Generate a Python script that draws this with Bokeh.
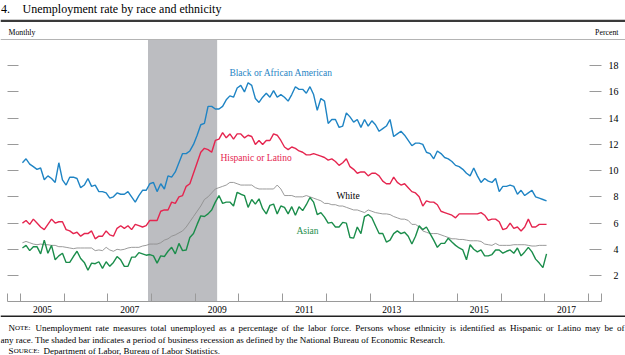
import numpy as np
from bokeh.plotting import figure
from bokeh.models import (FixedTicker, LinearAxis, BoxAnnotation, Label,
                          ColumnDataSource, Range1d)
from bokeh.embed import file_html
from bokeh.resources import INLINE
from bokeh.core.properties import value

# ---------------- data (monthly, Jan 2005 - Jan 2017, percent) ----------------
first_year = 2005
n_months = 145
dates = first_year + (np.arange(n_months) + 0.5) / 12.0

black = [10.6, 10.9, 10.5, 10.3, 10.1, 10.2, 9.3, 9.6, 9.4, 9.1, 10.6, 9.3,
         8.9, 9.5, 9.5, 9.4, 8.7, 8.9, 9.4, 8.8, 8.9, 8.4, 8.4, 8.3,
         7.9, 8.0, 8.3, 8.2, 8.2, 8.4, 8.0, 7.6, 8.1, 8.5, 8.5, 9.0,
         9.1, 8.4, 9.0, 8.6, 9.6, 9.5, 9.9, 10.6, 11.3, 11.3, 11.5, 12.0,
         12.7, 13.5, 13.6, 14.9, 14.9, 14.7, 14.7, 14.9, 15.4, 15.7, 15.6, 16.3,
         16.5, 16.0, 16.7, 16.5, 15.5, 15.2, 15.6, 15.9, 15.6, 16.1, 15.6, 15.8,
         15.6, 15.3, 15.8, 16.4, 16.2, 16.2, 15.9, 16.4, 15.8, 14.6, 15.5, 15.3,
         13.6, 13.9, 13.9, 13.3, 13.4, 14.4, 14.1, 13.7, 13.9, 13.3, 13.9, 13.4,
         13.8, 13.5, 13.0, 13.2, 13.4, 13.9, 12.6, 12.8, 13.0, 12.7, 12.3, 11.9,
         12.1, 12.1, 12.0, 11.4, 11.3, 10.9, 11.5, 11.3, 11.0, 10.9, 10.7, 10.4,
         10.3, 10.1, 9.8, 9.6, 10.2, 9.6, 9.1, 9.4, 9.2, 9.1, 9.4, 8.4,
         8.8, 8.8, 8.9, 8.8, 8.2, 8.5, 8.1, 8.3, 8.5, 8.0, 7.9, 7.8, 7.7]

hispanic = [6.0, 6.2, 5.9, 6.3, 6.0, 5.7, 5.5, 5.9, 6.3, 6.0, 6.1, 6.1,
            5.5, 5.4, 5.2, 5.3, 5.0, 5.2, 5.2, 5.4, 4.8, 5.0, 5.0, 5.4,
            5.1, 5.0, 5.6, 5.8, 5.6, 5.8, 5.5, 5.9, 5.8, 5.7, 5.8, 6.2,
            6.2, 6.2, 6.9, 7.0, 7.0, 7.6, 7.5, 8.0, 8.1, 8.8, 9.0, 9.8,
            10.6, 11.4, 11.7, 11.6, 11.4, 12.3, 12.4, 12.9, 12.5, 12.8, 12.4, 12.8,
            12.8, 12.5, 12.7, 12.6, 12.0, 12.3, 12.0, 12.3, 12.3, 12.8, 12.7, 12.3,
            11.8, 11.6, 11.8, 11.7, 11.5, 11.4, 11.2, 11.2, 11.3, 11.2, 11.1, 11.0,
            10.8, 10.9, 10.7, 10.4, 10.6, 10.9, 10.3, 10.1, 9.8, 9.9, 9.9, 9.6,
            9.8, 9.8, 9.6, 9.2, 9.0, 9.0, 9.5, 9.1, 8.9, 9.0, 8.7, 8.4,
            8.3, 8.0, 7.3, 7.7, 7.6, 7.6, 7.4, 6.9, 6.8, 6.7, 6.6, 6.4,
            6.7, 6.7, 6.7, 6.7, 6.7, 6.7, 6.8, 6.6, 6.2, 6.3, 6.3, 6.1,
            5.5, 5.6, 6.0, 5.6, 5.7, 5.4, 5.7, 6.3, 5.7, 5.7, 5.9, 5.9, 5.9]

white = [4.5, 4.6, 4.5, 4.4, 4.35, 4.4, 4.35, 4.35, 4.3, 4.3, 4.2, 4.2,
         4.15, 4.1, 4.05, 4.1, 4.1, 4.1, 4.1, 4.1, 3.9, 3.95, 3.9, 4.15,
         3.95, 3.85, 4.0, 3.95, 4.0, 4.1, 4.15, 4.15, 4.15, 4.25, 4.3, 4.4,
         4.4, 4.4, 4.5, 4.7, 4.8, 5.0, 5.1, 5.25, 5.4, 5.7, 6.1, 6.5,
         6.9, 7.3, 7.8, 8.0, 8.3, 8.6, 8.7, 8.8, 8.9, 9.1, 9.1, 9.0,
         8.9, 8.9, 8.9, 8.9, 8.7, 8.6, 8.6, 8.6, 8.6, 8.6, 8.9, 8.6,
         8.1, 8.1, 8.1, 8.0, 8.0, 8.0, 8.1, 8.0, 7.9, 7.8, 7.7, 7.5,
         7.5, 7.4, 7.4, 7.3, 7.3, 7.2, 7.1, 7.0, 7.0, 6.9, 6.8, 7.0,
         6.9, 6.8, 6.75, 6.7, 6.7, 6.65, 6.5, 6.4, 6.3, 6.3, 6.2, 5.9,
         5.9, 5.7, 5.4, 5.3, 5.2, 5.2, 5.2, 5.1, 5.0, 4.9, 4.8, 4.8,
         4.75, 4.75, 4.7, 4.65, 4.65, 4.65, 4.6, 4.4, 4.35, 4.3, 4.45, 4.3,
         4.3, 4.3, 4.3, 4.35, 4.35, 4.35, 4.35, 4.3, 4.25, 4.25, 4.3, 4.3, 4.3]

asian = [4.1, 4.3, 3.9, 4.2, 4.2, 3.65, 4.7, 3.7, 4.3, 3.2, 3.5, 3.7,
         3.0, 3.0, 3.45, 3.85, 3.3, 3.0, 2.4, 2.95, 2.9, 3.05, 2.55, 3.05,
         2.7, 3.0, 3.45, 3.2, 2.7, 2.7, 3.4, 3.4, 3.75, 3.65, 3.55, 3.6,
         3.5, 2.95, 3.5, 3.45, 3.85, 4.15, 3.65, 4.45, 3.9, 3.95, 4.9, 5.2,
         5.9, 6.55, 6.5, 6.7, 7.0, 7.6, 8.1, 7.5, 7.6, 7.6, 7.3, 8.35,
         8.2, 8.1, 7.2, 7.8, 7.45, 7.85, 7.1, 6.7, 7.35, 7.45, 6.7, 7.3,
         7.2, 6.7, 7.25, 6.6, 7.25, 6.95, 7.4, 7.95, 7.6, 6.65, 6.8, 6.45,
         6.0, 6.05, 5.7, 5.7, 6.05, 6.0, 4.9, 4.85, 5.7, 5.2, 6.5, 6.65,
         6.4, 5.8, 5.2, 5.2, 4.55, 4.7, 5.2, 5.4, 5.2, 5.3, 5.0, 4.4,
         5.0, 5.8, 5.5, 5.7, 5.2, 4.7, 4.15, 4.45, 4.45, 4.85, 4.55, 4.3,
         4.1, 3.95, 3.2, 4.35, 4.0, 3.8, 3.95, 3.5, 3.5, 3.6, 3.95, 3.95,
         3.7, 3.85, 3.95, 3.7, 4.1, 3.5, 3.8, 4.15, 3.8, 3.25, 2.95, 2.6, 3.65]

series_names = ["Black or African American", "Hispanic or Latino", "White", "Asian"]

recession_start = 2007 + 11 / 12.0   # Dec 2007
recession_end = 2009 + 6 / 12.0      # Jun 2009

year_ticks = list(range(2005, 2019))
year_labels = list(range(2005, 2018, 2))
pct_ticks_2digit = [10, 12, 14, 16, 18]
pct_ticks_1digit = [2, 4, 6, 8]

title_text = "Unemployment rate by race and ethnicity"
note_line1 = ("Unemployment rate measures total unemployed as a percentage of the labor force. "
              "Persons whose ethnicity is identified as Hispanic or Latino may be of")
note_line2 = ("any race. The shaded bar indicates a period of business recession as defined by "
              "the National Bureau of Economic Research.")
source_text = "Department of Labor, Bureau of Labor Statistics."

# ---------------- layout geometry (pixels) ----------------
W, H = 625, 355
AREA_L, AREA_R = 7.0, 601.0
AREA_T, AREA_B = 39.0, 301.25
X0, X1 = 2004.70, 2018.30
Y0, Y1 = 0.0, 20.0
ppx = (AREA_R - AREA_L) / (X1 - X0)
ppy = (AREA_B - AREA_T) / (Y1 - Y0)

SERIF = "Liberation Serif"
C_BLACK = "#1f84c4"
C_HISP = "#e5254f"
C_WHITE = "#8e8e8e"
C_ASIAN = "#1b8d4b"
TICK_C = "#9a9a9a"

# Times-compatible advance widths (per 1000 em) for justified note text
_TW = {' ': 250, ',': 250, '.': 250, ':': 278, '-': 333}
_TW.update(dict(zip("ABCDEFGHIJKLMNOPQRSTUVWXYZ",
                    [722, 667, 667, 722, 611, 556, 722, 722, 333, 389, 722, 611, 889,
                     722, 722, 556, 722, 667, 556, 611, 722, 722, 944, 722, 722, 611])))
_TW.update(dict(zip("abcdefghijklmnopqrstuvwxyz",
                    [444, 500, 444, 500, 444, 333, 500, 500, 278, 278, 500, 278, 778,
                     500, 500, 500, 500, 333, 389, 278, 500, 500, 722, 500, 500, 444])))


def text_width(s, size):
    return sum(_TW.get(ch, 500) for ch in s) * size / 1000.0


p = figure(width=W, height=H,
           x_range=Range1d(X0 - AREA_L / ppx, X1 + (W - AREA_R) / ppx),
           y_range=Range1d(Y0 - (H - AREA_B) / ppy, Y1 + AREA_T / ppy),
           x_axis_location=None, y_axis_location=None,
           output_backend="svg", toolbar_location=None,
           min_border=0, min_border_left=0, min_border_right=0,
           min_border_top=0, min_border_bottom=0)
p.extra_x_ranges = {"px": Range1d(0, W)}
p.extra_y_ranges = {"px": Range1d(H, 0)}
p.outline_line_color = None
p.grid.visible = False
p.background_fill_color = "white"
p.border_fill_color = "white"

# recession band
p.add_layout(BoxAnnotation(left=recession_start, right=recession_end, bottom=Y0, top=Y1,
                           fill_color="#bcbdc1", fill_alpha=1.0, line_color=None,
                           level="underlay"))

# right axes (labels right-aligned by using two standoffs)
for ticks, standoff in ((pct_ticks_2digit, 7), (pct_ticks_1digit, 12)):
    ax = LinearAxis(ticker=FixedTicker(ticks=ticks), fixed_location=X1,
                    major_tick_in=12, major_tick_out=0, minor_tick_in=0, minor_tick_out=0,
                    axis_line_color=None, major_tick_line_color=TICK_C,
                    major_label_standoff=standoff, major_label_text_font=SERIF,
                    major_label_text_font_size="10px", major_label_text_color="black")
    p.add_layout(ax, "right")

# left axis: tick marks only
la = LinearAxis(ticker=FixedTicker(ticks=pct_ticks_1digit + pct_ticks_2digit), fixed_location=X0,
                major_tick_in=11, major_tick_out=0, minor_tick_in=0, minor_tick_out=0,
                axis_line_color=None, major_tick_line_color=TICK_C,
                major_label_text_color=None)
p.add_layout(la, "left")

# bottom axis
mids = [y + 0.5 for y in year_labels]
xa = LinearAxis(ticker=FixedTicker(ticks=mids, minor_ticks=year_ticks + [X0 + 0.001, X1 - 0.001]),
                fixed_location=Y0, bounds=(X0, X1),
                major_label_overrides={m: str(y) for m, y in zip(mids, year_labels)},
                major_tick_in=0, major_tick_out=0, minor_tick_in=8, minor_tick_out=0,
                minor_tick_line_color=TICK_C, axis_line_color=TICK_C,
                major_label_standoff=4, major_label_text_font=SERIF,
                major_label_text_font_size="9.5px", major_label_text_color="black")
p.add_layout(xa, "below")

# series lines
p.line(dates, white, line_color=C_WHITE, line_width=0.9)
p.line(dates, asian, line_color=C_ASIAN, line_width=1.4)
p.line(dates, hispanic, line_color=C_HISP, line_width=1.4)
p.line(dates, black, line_color=C_BLACK, line_width=1.4)

# series labels
lab_src = ColumnDataSource(dict(
    x=[2009.78, 2009.575, 2012.23, 2011.315],
    y=[17.48, 10.99, 8.05, 5.38],
    text=series_names,
    color=[C_BLACK, C_HISP, "black", C_ASIAN]))
p.text(x="x", y="y", text="text", text_color="color", source=lab_src,
       text_font=value(SERIF), text_font_size=value("9.5px"),
       text_baseline="middle", text_align="left")


# rules (pixel coordinates through the "px" ranges)
def hrule(y_top, y_bot, color):
    p.add_layout(BoxAnnotation(left=0, right=W, top=y_top, bottom=y_bot,
                               x_range_name="px", y_range_name="px",
                               fill_color=color, fill_alpha=1.0, line_color=None))


hrule(19.2, 21.6, "#3a3a3a")
hrule(38.5, 39.5, "#b4b4b4")
hrule(315.0, 316.5, "#222222")


def lab(x, y, text, size, align="left", color="black"):
    p.add_layout(Label(x=x, y=y, x_range_name="px", y_range_name="px", text=text,
                       text_font=SERIF, text_font_size=size, text_align=align,
                       text_baseline="middle", text_color=color))


lab(0.5, 8, "4.", "12px")
lab(22, 8, title_text, "12px")
lab(8, 31.5, "Monthly", "7.8px")
lab(618, 31.5, "Percent", "7.8px", align="right")

# note line 1, justified between x=35 and x=624 (word by word)
NOTE_PX = 9.0
lab(8, 327.5, "N", "9px")
lab(14.5, 327.8, "OTE:", "7px")
words = note_line1.split(" ")
x_start, x_end = 35.0, 624.0
extra = (x_end - x_start - text_width(note_line1, NOTE_PX)) / (len(words) - 1)
for k, w in enumerate(words):
    before = " ".join(words[:k]) + (" " if k > 0 else "")
    wx = x_start + text_width(before, NOTE_PX) + k * extra
    lab(wx, 327.5, w, "9px")

lab(0, 339, note_line2, "9px")
lab(8, 350.5, "S", "9px")
lab(13.2, 350.8, "OURCE:", "7px")
lab(43, 350.5, source_text, "9px")

open("out.html", "w").write(file_html(p, INLINE))
